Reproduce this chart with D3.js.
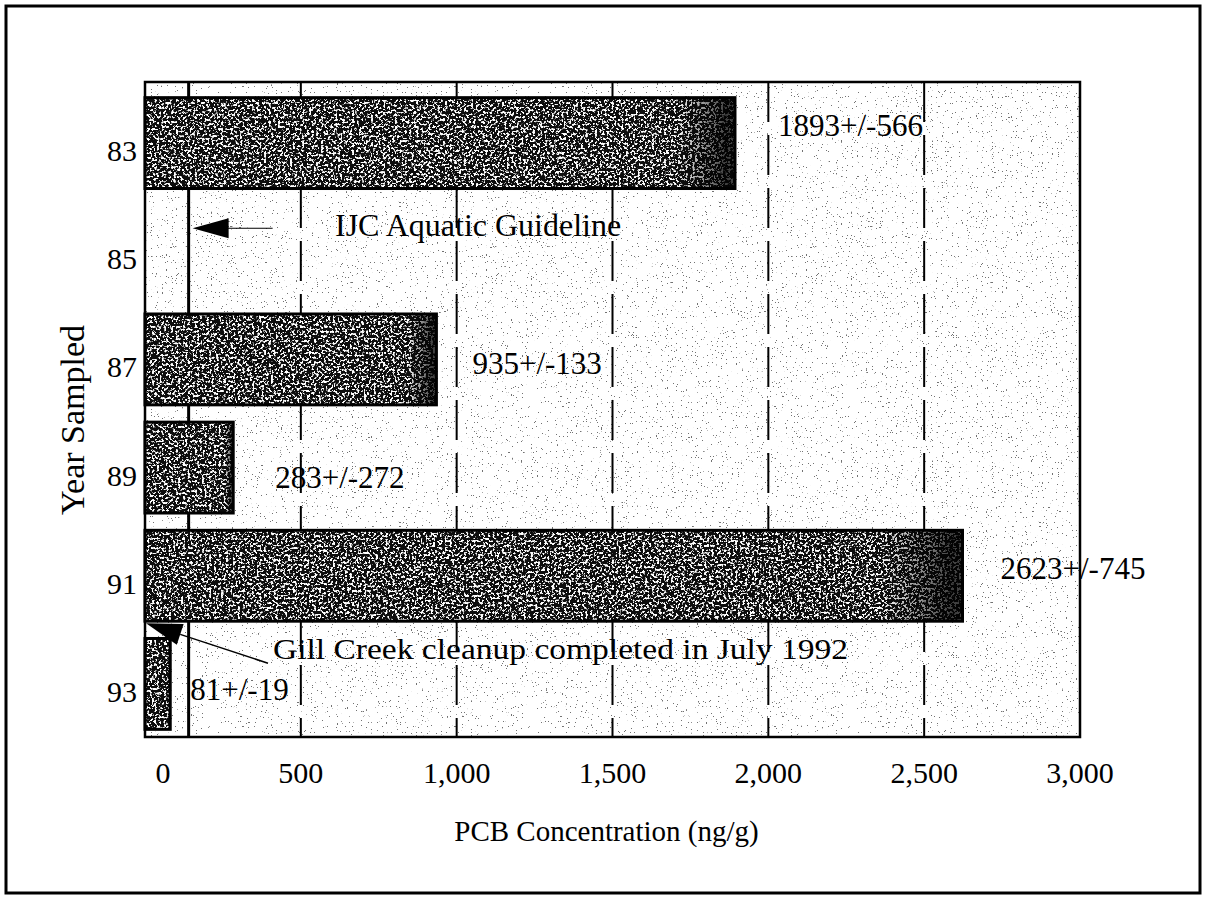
<!DOCTYPE html>
<html>
<head>
<meta charset="utf-8">
<script src="https://cdn.jsdelivr.net/npm/d3@7/dist/d3.min.js"></script>
<style>
  html, body { margin: 0; padding: 0; background: #fff; }
  svg { display: block; }
  text { font-family: "Liberation Serif", "Times New Roman", Times, serif; fill: #000; }
</style>
</head>
<body>
<svg id="chart" width="1206" height="897"></svg>
<script>
// ---------------- data ----------------
const categories = ["83", "85", "87", "89", "91", "93"];
const means      = [1893, null, 935, 283, 2623, 81];
const plusMinus  = [566, null, 133, 272, 745, 19];
const xTickValues = [0, 500, 1000, 1500, 2000, 2500, 3000];
const gridValues  = [500, 1000, 1500, 2000, 2500];
const guidelineValue = 140;
const guidelineText = "IJC Aquatic Guideline";
const cleanupText = "Gill Creek cleanup completed in July 1992";
const xTitle = "PCB Concentration (ng/g)";
const yTitle = "Year Sampled";

// ---------------- layout ----------------
const W = 1206, H = 897;
const plot = { left: 145, right: 1080, top: 82, bottom: 737 };

const svg = d3.select("#chart");

const x = d3.scaleLinear().domain([0, 3000]).range([plot.left, plot.right]);
const y = d3.scaleBand().domain(categories).range([89, plot.bottom + 1])
  .paddingInner(0.16).paddingOuter(0.08);

const rows = categories.map((c, i) => ({ cat: c, v: means[i], e: plusMinus[i] }));

// ---------------- defs (textures) ----------------
const defs = svg.append("defs");
const grain = defs.append("filter").attr("id", "grain")
  .attr("x", 0).attr("y", 0).attr("width", 1).attr("height", 1);
grain.append("feTurbulence").attr("type", "fractalNoise")
  .attr("baseFrequency", "0.42").attr("numOctaves", 3).attr("seed", 11).attr("result", "n");
grain.append("feColorMatrix").attr("in", "n").attr("type", "matrix")
  .attr("values", "0 0 0 0 1  0 0 0 0 1  0 0 0 0 1  10 0 0 0 -5.35").attr("result", "w");
grain.append("feComposite").attr("in", "w").attr("in2", "SourceGraphic")
  .attr("operator", "in").attr("result", "wi");
const gm = grain.append("feMerge");
gm.append("feMergeNode").attr("in", "SourceGraphic");
gm.append("feMergeNode").attr("in", "wi");

const speck = defs.append("filter").attr("id", "speck")
  .attr("x", 0).attr("y", 0).attr("width", 1).attr("height", 1);
speck.append("feTurbulence").attr("type", "fractalNoise")
  .attr("baseFrequency", "0.8").attr("numOctaves", 2).attr("seed", 3).attr("result", "n");
speck.append("feColorMatrix").attr("in", "n").attr("type", "matrix")
  .attr("values", "0 0 0 0 0  0 0 0 0 0  0 0 0 0 0  40 0 0 0 -28.5");

const endShade = defs.append("linearGradient").attr("id", "endShade")
  .attr("x1", 0).attr("x2", 1).attr("y1", 0).attr("y2", 0);
endShade.append("stop").attr("offset", "0.9").attr("stop-color", "#000").attr("stop-opacity", 0);
endShade.append("stop").attr("offset", "0.985").attr("stop-color", "#000").attr("stop-opacity", 0.75);

// ---------------- outer frame ----------------
svg.append("rect").attr("x", 6).attr("y", 6).attr("width", W - 12).attr("height", H - 10)
  .attr("fill", "#fff").attr("stroke", "#000").attr("stroke-width", 3);

// ---------------- plot background ----------------
svg.append("rect").attr("x", plot.left).attr("y", plot.top)
  .attr("width", plot.right - plot.left).attr("height", plot.bottom - plot.top)
  .attr("fill", "#fff").attr("filter", "url(#speck)").attr("opacity", 0.55);

// dashed gridlines
svg.append("g").selectAll("line").data(gridValues).join("line")
  .attr("x1", d => x(d)).attr("x2", d => x(d))
  .attr("y1", plot.top).attr("y2", plot.bottom)
  .attr("stroke", "#000").attr("stroke-width", 2)
  .attr("stroke-dasharray", "40 13");

// guideline (solid)
svg.append("line")
  .attr("x1", x(guidelineValue)).attr("x2", x(guidelineValue))
  .attr("y1", plot.top).attr("y2", plot.bottom)
  .attr("stroke", "#000").attr("stroke-width", 3);

// ---------------- bars ----------------
const barRows = rows.filter(r => r.v != null);
const barG = svg.append("g");
barG.selectAll("rect.fill").data(barRows).join("rect").attr("class", "fill")
  .attr("x", x(0)).attr("y", d => y(d.cat))
  .attr("width", d => x(d.v) - x(0)).attr("height", y.bandwidth())
  .attr("fill", "#0e0e0e").attr("filter", "url(#grain)");
barG.selectAll("rect.shade").data(barRows).join("rect").attr("class", "shade")
  .attr("x", x(0)).attr("y", d => y(d.cat))
  .attr("width", d => x(d.v) - x(0)).attr("height", y.bandwidth())
  .attr("fill", "url(#endShade)");
barG.selectAll("rect.edge").data(barRows).join("rect").attr("class", "edge")
  .attr("x", x(0)).attr("y", d => y(d.cat))
  .attr("width", d => x(d.v) - x(0)).attr("height", y.bandwidth())
  .attr("fill", "none").attr("stroke", "#000").attr("stroke-width", 3);

// plot frame
svg.append("rect").attr("x", plot.left).attr("y", plot.top)
  .attr("width", plot.right - plot.left).attr("height", plot.bottom - plot.top)
  .attr("fill", "none").attr("stroke", "#000").attr("stroke-width", 2.5);

// ---------------- value labels ----------------
const nudge = { "83": [43, -7], "87": [36, 15], "89": [42, 20], "91": [38, 3], "93": [20, 16] };
svg.append("g").selectAll("text").data(barRows).join("text")
  .attr("x", d => x(d.v) + nudge[d.cat][0])
  .attr("y", d => y(d.cat) + y.bandwidth() / 2 + nudge[d.cat][1])
  .attr("font-size", 31)
  .text(d => `${d.v}+/-${d.e}`);

// ---------------- axes labels ----------------
svg.append("g").selectAll("text").data(categories).join("text")
  .attr("x", 137).attr("y", d => y(d) + y.bandwidth() / 2 + 18)
  .attr("text-anchor", "end").attr("font-size", 30)
  .text(d => d);

svg.append("g").selectAll("text").data(xTickValues).join("text")
  .attr("x", d => x(d) + (d === 0 ? 18 : 0)).attr("y", 783)
  .attr("text-anchor", "middle").attr("font-size", 30)
  .text(d => d3.format(",")(d));

svg.append("text").attr("x", (453 + 760) / 2).attr("y", 841)
  .attr("text-anchor", "middle").attr("font-size", 29).text(xTitle);

svg.append("text").attr("transform", `translate(84, ${420}) rotate(-90)`)
  .attr("text-anchor", "middle").attr("font-size", 34).text(yTitle);

// ---------------- annotations ----------------
// IJC guideline arrow
const yc85 = y("85") + y.bandwidth() / 2;
const tipX = x(guidelineValue) + 4, tipY = yc85 - 23;
svg.append("line").attr("x1", tipX + 30).attr("x2", tipX + 80)
  .attr("y1", tipY).attr("y2", tipY).attr("stroke", "#000").attr("stroke-width", 1);
svg.append("path")
  .attr("d", `M${tipX},${tipY} L${tipX + 36},${tipY - 10} L${tipX + 36},${tipY + 10} Z`)
  .attr("fill", "#000");
svg.append("text").attr("x", 335).attr("y", tipY + 8)
  .attr("font-size", 32).text(guidelineText);

// Gill Creek arrow
const gTipX = x(0) + 1, gTipY = y("91") + y.bandwidth() + 2;
const gEndX = 268, gEndY = gTipY + 40;
const dx = gEndX - gTipX, dy = gEndY - gTipY, len = Math.hypot(dx, dy);
const ux = dx / len, uy = dy / len, nx = -uy, ny = ux;
const hl = 36, hw = 11;
const bx = gTipX + ux * hl, by = gTipY + uy * hl;
svg.append("line").attr("x1", bx).attr("y1", by).attr("x2", gEndX).attr("y2", gEndY)
  .attr("stroke", "#000").attr("stroke-width", 1.5);
svg.append("path")
  .attr("d", `M${gTipX},${gTipY} L${bx + nx * hw},${by + ny * hw} L${bx - nx * hw},${by - ny * hw} Z`)
  .attr("fill", "#000");
svg.append("text").attr("x", 273).attr("y", gTipY + 36)
  .attr("font-size", 29).attr("textLength", 575).attr("lengthAdjust", "spacingAndGlyphs")
  .text(cleanupText);
</script>
</body>
</html>
